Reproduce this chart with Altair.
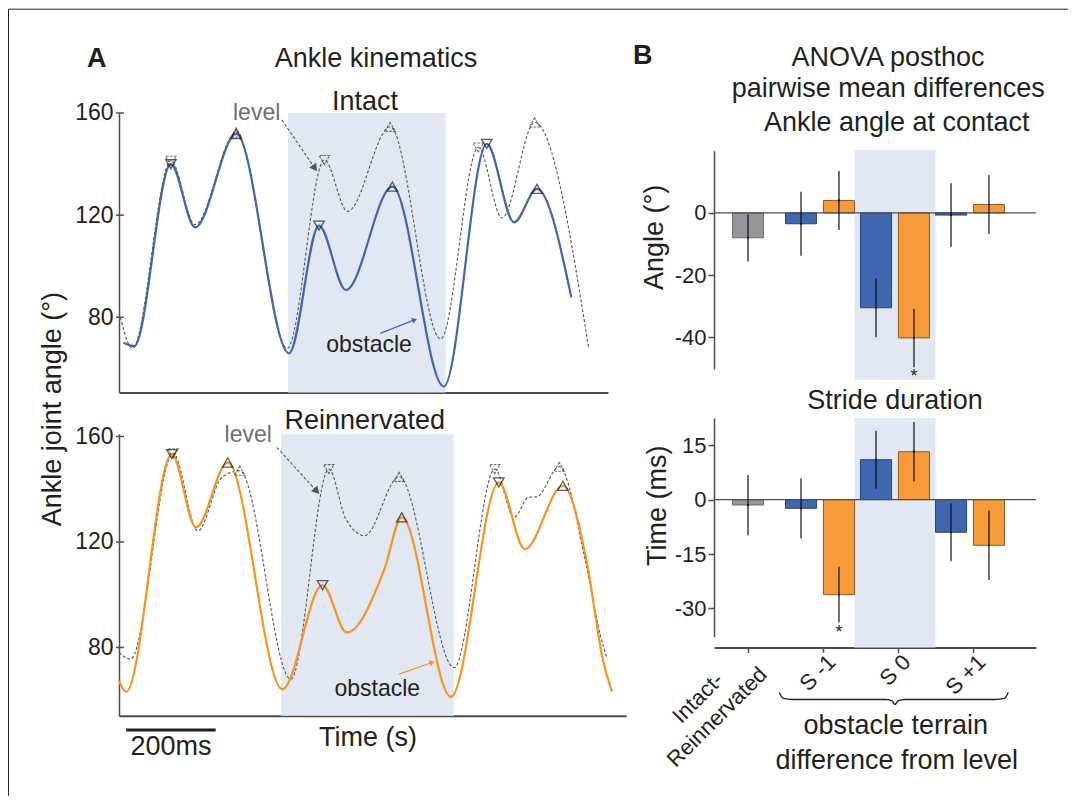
import altair as alt
import pandas as pd

# ---------------- Panel A: ankle joint angle traces (time in ms, angle in deg) ----------------
intact_obstacle_t = [10, 34, 116, 170, 262, 380, 447, 507, 611, 726, 822, 883, 934, 1011]
intact_obstacle_a = [70.0, 68.7, 140.0, 115.2, 151.8, 65.9, 115.9, 90.7, 131.2, 52.9, 147.9, 117.2, 130.3, 87.8]
intact_level_t = [3, 30, 116, 170, 262, 376, 459, 511, 606, 719, 803, 856, 929, 1050]
intact_level_a = [80.0, 67.9, 141.3, 116.3, 152.4, 67.9, 141.6, 121.5, 154.6, 71.5, 146.5, 118.9, 156.3, 67.6]
reinn_obstacle_t = [0, 16, 118, 172, 243, 365, 455, 509, 592, 632, 742, 849, 907, 992, 1045, 1082, 1102]
reinn_obstacle_a = [67.4, 63.2, 153.3, 125.5, 150.1, 64.2, 103.6, 85.7, 109.1, 129.3, 61.3, 142.6, 117.3, 141.3, 112.9, 75.0, 63.3]
reinn_level_t = [0, 26, 121, 176, 230, 270, 384, 469, 507, 549, 626, 749, 840, 883, 915, 934, 984, 1042, 1075, 1091]
reinn_level_a = [78.1, 75.6, 153.6, 124.2, 144.5, 147.0, 68.0, 147.6, 128.7, 122.4, 144.7, 72.4, 147.6, 129.3, 136.9, 137.1, 148.5, 112.9, 85.2, 75.7]

event_shape = ["triangle-down", "triangle-up"] * 3
intact_obstacle_ev_t = [116, 262, 447, 611, 822, 934]
intact_obstacle_ev_a = [140.0, 151.8, 115.9, 131.2, 147.9, 130.3]
intact_level_ev_t = [116, 262, 459, 606, 803, 929]
intact_level_ev_a = [141.3, 152.4, 141.6, 154.6, 146.5, 156.3]
reinn_obstacle_ev_t = [118, 243, 455, 632, 849, 992]
reinn_obstacle_ev_a = [153.3, 150.1, 103.6, 129.3, 142.6, 141.3]
reinn_level_ev_t = [121, 270, 469, 626, 840, 984]
reinn_level_ev_a = [153.6, 147.0, 147.6, 144.7, 147.6, 148.5]

intact_obstacle_stride = [378, 730]
reinn_obstacle_stride = [362, 748]
scale_bar_ms = [16, 216]
angle_ticks = [80, 120, 160]

# annotation arrows (time, angle)
intact_level_arrow_t = [364, 436]
intact_level_arrow_a = [157.3, 138.8]
intact_obst_arrow_t = [584, 659]
intact_obst_arrow_a = [73.7, 78.9]
reinn_level_arrow_t = [353, 440]
reinn_level_arrow_a = [155.8, 139.6]
reinn_obst_arrow_t = [626, 698]
reinn_obst_arrow_a = [69.9, 74.2]

# ---------------- Panel B: ANOVA posthoc pairwise mean differences ----------------
comparisons = ["Intact-\nReinnervated", "S -1", "S 0", "S +1"]
bar_comparison = [0, 1, 1, 2, 2, 3, 3]
bar_group = ["Intact-Reinnervated", "Intact", "Reinnervated", "Intact", "Reinnervated", "Intact", "Reinnervated"]
contact_angle_mean = [-8.0, -3.5, 4.0, -30.5, -40.2, -0.7, 2.7]
contact_angle_err = [7.6, 10.3, 9.5, 9.5, 9.4, 10.2, 9.5]
contact_angle_sig = [False, False, False, False, True, False, False]
stride_mean = [-1.5, -2.4, -26.2, 11.0, 13.2, -9.0, -12.6]
stride_err = [8.3, 8.3, 7.7, 8.0, 8.2, 8.0, 9.6]
stride_sig = [False, False, True, False, False, False, False]
contact_ticks = [-40, -20, 0]
stride_ticks = [-30, -15, 0, 15]

# ---------------- styles / layout ----------------
FONT = "Liberation Sans"
INK = "#231f20"
AX = "#4d4d4d"
SHADE = "#e1e7f3"
BLUE = "#3e66b1"
ORANGE = "#f7941d"
LEVEL = "#555555"
FILLS = {"Intact-Reinnervated": ("#939598", "#6d6e71"),
         "Intact": ("#3e66b1", "#24457f"),
         "Reinnervated": ("#f69a3a", "#8f5a22")}
HYPHEN_LABELS = "'' + datum.value"

MS_PER_PX = 2.235
TOTAL_W, TOTAL_H = 917, 602.8          # master plot area (origin = top-left panel origin)
A_TOP = dict(x0=0, y0=0, w=489, h=279.4)
A_BOT = dict(x0=0, y0=320.8, w=507, h=282)
B_TOP = dict(x0=595, y0=37.7, w=322, h=218.3)
B_BOT = dict(x0=595, y0=305, w=322, h=218.7)
PX_PER_U = 75.0
U_MIN = -34 / PX_PER_U

ONE = pd.DataFrame({"k": [0]})


def txt(text, x, y, size=27, color=INK, align="center", baseline="alphabetic",
        angle=0, weight="normal"):
    kw = dict(text=text, fontSize=size, font=FONT, color=color, align=align,
              baseline=baseline, fontWeight=weight)
    if angle:
        kw["angle"] = angle
    return alt.Chart(ONE).mark_text(**kw).encode(x=alt.value(x), y=alt.value(y))


def kin_panel(P, ydom, obs_t, obs_a, lvl_t, lvl_a, obs_ev_t, obs_ev_a,
              lvl_ev_t, lvl_ev_a, stride, color, lvl_arrow, obs_arrow, arrow_angles,
              texts, extra=None):
    x0, y0, w, h = P["x0"], P["y0"], P["w"], P["h"]
    xs = alt.Scale(domain=[0, w * MS_PER_PX], range=[x0, x0 + w], nice=False, zero=False)
    ys = alt.Scale(domain=ydom, range=[y0 + h, y0], nice=False, zero=False)
    xaxis = alt.Axis(orient="bottom", offset=(y0 + h) - TOTAL_H, labels=False, ticks=False,
                     title=None, grid=False, domainColor=AX, domainWidth=2)
    yaxis = alt.Axis(orient="left", offset=-x0, values=angle_ticks, title=None, grid=False,
                     ticks=False, labelPadding=6, labelFontSize=23, labelFont=FONT,
                     labelColor=INK, domainColor=AX, domainWidth=1.5,
                     labelExpr=HYPHEN_LABELS)

    def X(f):
        return alt.X(f, type="quantitative", scale=xs, axis=xaxis)

    def Y(f):
        return alt.Y(f, type="quantitative", scale=ys, axis=yaxis)

    layers = []
    sdf = pd.DataFrame({"t0": [stride[0]], "t1": [stride[1]]})
    layers.append(alt.Chart(sdf).mark_rect(color=SHADE).encode(
        x=X("t0"), x2="t1", y=alt.value(y0), y2=alt.value(y0 + h)))

    tdf = pd.DataFrame({"v": angle_ticks})
    layers.append(alt.Chart(tdf).mark_rule(color=AX, strokeWidth=1.5).encode(
        y=Y("v"), x=alt.value(x0 - 3), x2=alt.value(x0 + 5)))

    ldf = pd.DataFrame({"t": lvl_t, "a": lvl_a})
    layers.append(alt.Chart(ldf).mark_line(color=LEVEL, strokeWidth=1.1, strokeDash=[3, 2],
                                           interpolate="monotone").encode(x=X("t"), y=Y("a")))
    odf = pd.DataFrame({"t": obs_t, "a": obs_a})
    layers.append(alt.Chart(odf).mark_line(color=color, strokeWidth=2.2,
                                           interpolate="monotone").encode(x=X("t"), y=Y("a")))

    lev = pd.DataFrame({"t": lvl_ev_t, "a": lvl_ev_a, "shape": event_shape})
    layers.append(alt.Chart(lev).mark_point(filled=False, size=110, stroke="#333333",
                                            strokeWidth=1.1, strokeDash=[2.5, 1.2]).encode(
        x=X("t"), y=Y("a"), shape=alt.Shape("shape:N", scale=None)))
    oev = pd.DataFrame({"t": obs_ev_t, "a": obs_ev_a, "shape": event_shape})
    layers.append(alt.Chart(oev).mark_point(filled=False, size=110, stroke="#1a1a1a",
                                            strokeWidth=1.3).encode(
        x=X("t"), y=Y("a"), shape=alt.Shape("shape:N", scale=None)))

    # arrows
    la = pd.DataFrame({"t": lvl_arrow[0], "a": lvl_arrow[1]})
    layers.append(alt.Chart(la).mark_line(color=LEVEL, strokeWidth=1.1, strokeDash=[3, 2]).encode(
        x=X("t"), y=Y("a")))
    layers.append(alt.Chart(la.tail(1)).mark_point(shape="triangle", filled=True, size=75,
                                                   color=LEVEL, opacity=1,
                                                   angle=arrow_angles[0]).encode(x=X("t"), y=Y("a")))
    oa = pd.DataFrame({"t": obs_arrow[0], "a": obs_arrow[1]})
    layers.append(alt.Chart(oa).mark_line(color=color, strokeWidth=1.2).encode(
        x=X("t"), y=Y("a")))
    layers.append(alt.Chart(oa.tail(1)).mark_point(shape="triangle", filled=True, size=35,
                                                   color=color, opacity=1,
                                                   angle=arrow_angles[1]).encode(x=X("t"), y=Y("a")))
    if extra is not None:
        layers.extend(extra(X, Y))
    layers.extend(texts)
    return alt.layer(*layers)


# ---- Panel A top (Intact)
a_top_texts = [
    alt.Chart(ONE).mark_rule(color="#222222", strokeWidth=1).encode(
        x=alt.value(-110.5), y=alt.value(-103.8), y2=alt.value(682.7)),
    alt.Chart(ONE).mark_rule(color="#222222", strokeWidth=1).encode(
        x=alt.value(-110.5), x2=alt.value(949), y=alt.value(-103.8)),
    txt("A", -32, -46.3, align="left", weight="bold"),
    txt("Ankle kinematics", 257, -46.3),
    txt("Intact", 246, -3.3),
    txt("level", 114, 7, size=23, color="#6d6e71", align="left"),
    txt("obstacle", 250, 239.4, size=23),
    txt("Ankle joint angle (°)", -58, 296.2, angle=270),
]
a_top = kin_panel(A_TOP, [50.6, 160],
                  intact_obstacle_t, intact_obstacle_a, intact_level_t, intact_level_a,
                  intact_obstacle_ev_t, intact_obstacle_ev_a, intact_level_ev_t, intact_level_ev_a,
                  intact_obstacle_stride, BLUE,
                  (intact_level_arrow_t, intact_level_arrow_a),
                  (intact_obst_arrow_t, intact_obst_arrow_a),
                  (146, 69), a_top_texts)


# ---- Panel A bottom (Reinnervated)
YB = A_BOT["y0"]


def scale_bar(X, Y):
    bdf = pd.DataFrame({"t0": [scale_bar_ms[0]], "t1": [scale_bar_ms[1]],
                        "tm": [(scale_bar_ms[0] + scale_bar_ms[1]) / 2],
                        "lab": ["%dms" % (scale_bar_ms[1] - scale_bar_ms[0])]})
    return [
        alt.Chart(bdf).mark_rule(color=INK, strokeWidth=2.8).encode(
            x=X("t0"), x2="t1", y=alt.value(YB + 296.2)),
        alt.Chart(bdf).mark_text(fontSize=27, font=FONT, color=INK, baseline="alphabetic").encode(
            x=X("tm"), y=alt.value(YB + 320.9), text="lab:N"),
    ]


a_bot_texts = [
    txt("Reinnervated", 245.7, YB - 4.8),
    txt("level", 105.6, YB + 8.6, size=23, color="#6d6e71", align="left"),
    txt("obstacle", 258.3, YB + 261.9, size=23),
    txt("Time (s)", 249, YB + 312.6),
]
a_bot = kin_panel(A_BOT, [54.1, 161],
                  reinn_obstacle_t, reinn_obstacle_a, reinn_level_t, reinn_level_a,
                  reinn_obstacle_ev_t, reinn_obstacle_ev_a, reinn_level_ev_t, reinn_level_ev_a,
                  reinn_obstacle_stride, ORANGE,
                  (reinn_level_arrow_t, reinn_level_arrow_a),
                  (reinn_obst_arrow_t, reinn_obst_arrow_a),
                  (138, 70), a_bot_texts, extra=scale_bar)


# ---------------- Panel B ----------------
def bar_u(i):
    c = bar_comparison[i]
    if c == 0:
        return 0.0
    center = c - 0.04
    return center - 0.253 if bar_group[i] == "Intact" else center + 0.253


def anova_panel(P, ydom, yvals, mean, err, sig, show_xaxis, texts):
    x0, y0, w, h = P["x0"], P["y0"], P["w"], P["h"]
    xs = alt.Scale(domain=[U_MIN, U_MIN + w / PX_PER_U], range=[x0, x0 + w],
                   nice=False, zero=False)
    ys = alt.Scale(domain=ydom, range=[y0 + h, y0], nice=False, zero=False)
    if show_xaxis:
        xaxis = alt.Axis(orient="bottom", offset=(y0 + h + 10.7) - TOTAL_H,
                         values=[0, 1, 2, 3], labels=False, tickSize=5, tickColor=AX,
                         tickWidth=1.5, domainColor=AX, domainWidth=2,
                         title=None, grid=False)
    else:
        xaxis = None
    yaxis = alt.Axis(orient="left", offset=-x0, values=yvals, title=None, grid=False,
                     tickSize=6, tickColor=AX, tickWidth=1.5, labelPadding=2,
                     labelFontSize=22, labelFont=FONT, labelColor=INK,
                     domainColor=AX, domainWidth=1.5, labelExpr=HYPHEN_LABELS)

    def X(f):
        return alt.X(f, type="quantitative", scale=xs, axis=xaxis)

    def Y(f):
        return alt.Y(f, type="quantitative", scale=ys, axis=yaxis)

    n = len(mean)
    us = [bar_u(i) for i in range(n)]
    df = pd.DataFrame({
        "u": us,
        "ul": [u - 0.207 for u in us],
        "ur": [u + 0.207 for u in us],
        "mean": mean,
        "lo": [m - e for m, e in zip(mean, err)],
        "hi": [m + e for m, e in zip(mean, err)],
        "zero": [0.0] * n,
        "fill": [FILLS[g][0] for g in bar_group],
        "stroke": [FILLS[g][1] for g in bar_group],
        "group": bar_group,
    })
    shade_c = 2 - 0.04
    sdf = pd.DataFrame({"s0": [shade_c - 0.54], "s1": [shade_c + 0.54]})
    top_pad = 0 if show_xaxis else -1
    layers = [
        alt.Chart(sdf).mark_rect(color=SHADE).encode(
            x=X("s0"), x2="s1", y=alt.value(y0 + top_pad), y2=alt.value(y0 + h + 10.7)),
        alt.Chart(df).mark_bar(strokeWidth=1).encode(
            x=X("ul"), x2="ur", y=Y("zero"), y2="mean",
            fill=alt.Fill("fill:N", scale=None), stroke=alt.Stroke("stroke:N", scale=None)),
        alt.Chart(pd.DataFrame({"z": [0.0]})).mark_rule(color=AX, strokeWidth=1.2).encode(
            y=Y("z"), x=alt.value(x0), x2=alt.value(x0 + w)),
        alt.Chart(df).mark_rule(color="#111111", strokeWidth=1.2).encode(
            x=X("u"), y=Y("lo"), y2="hi"),
        alt.Chart(df).mark_point(filled=True, size=5, color="#111111", opacity=1).encode(
            x=X("u"), y=Y("mean")),
    ]
    star_df = df[[bool(s) for s in sig]]
    layers.append(alt.Chart(star_df).mark_text(text="*", fontSize=18, font=FONT, color=INK,
                                               dy=15, baseline="alphabetic").encode(
        x=X("u"), y=Y("lo")))
    if show_xaxis:
        single = pd.DataFrame({"lu": [i + 9 / PX_PER_U for i in range(1, 4)],
                               "lab": comparisons[1:]})
        layers.append(alt.Chart(single).mark_text(angle=315, align="right", baseline="middle",
                                                  fontSize=22, font=FONT, color=INK).encode(
            x=X("lu"), y=alt.value(y0 + 240.7), text="lab:N"))
        multi = pd.DataFrame({"lu": [0 - 50 / PX_PER_U], "lab": [comparisons[0]]})
        layers.append(alt.Chart(multi).mark_text(angle=315, align="center", baseline="middle",
                                                 fontSize=22, font=FONT, color=INK,
                                                 lineBreak="\n", lineHeight=27).encode(
            x=X("lu"), y=alt.value(y0 + 280), text="lab:N"))
        # curly brace under the obstacle-terrain comparisons (axis units, value units)
        brace_u = [0.417, 0.47, 0.6, 1.84, 1.92, 1.96, 2.0, 2.08, 3.29, 3.42, 3.47]
        brace_v = [-53.2, -54.8, -55.1, -55.1, -55.5, -56.5, -55.5, -55.1, -55.1, -54.8, -53.2]
        bdf = pd.DataFrame({"u": brace_u, "v": brace_v})
        layers.append(alt.Chart(bdf).mark_line(color=INK, strokeWidth=1.4,
                                               interpolate="monotone").encode(
            x=X("u"), y=Y("v")))
    layers.extend(texts)
    return alt.layer(*layers)


BX, BY = B_TOP["x0"], B_TOP["y0"]
b_top_texts = [
    txt("B", BX - 81, BY - 86.7, align="left", weight="bold"),
    txt("ANOVA posthoc", BX + 174, BY - 85),
    txt("pairwise mean differences", BX + 174.3, BY - 54),
    txt("Ankle angle at contact", BX + 182.7, BY - 19.3),
    txt("Angle (°)", BX - 51, BY + 86.7, angle=270),
]
b_top = anova_panel(B_TOP, [-50.2, 20], contact_ticks, contact_angle_mean,
                    contact_angle_err, contact_angle_sig, False, b_top_texts)

BY2 = B_BOT["y0"]
b_bot_texts = [
    txt("Stride duration", BX + 181, BY2 - 9),
    txt("Time  (ms)", BX - 48, BY2 + 87.7, angle=270),
    txt("obstacle terrain", BX + 181.8, BY2 + 316),
    txt("difference from level", BX + 182.7, BY2 + 351),
]
b_bot = anova_panel(B_BOT, [-37.8, 22.5], stride_ticks, stride_mean, stride_err,
                    stride_sig, True, b_bot_texts)

chart = alt.layer(a_top, a_bot, b_top, b_bot).resolve_scale(
    x="independent", y="independent").resolve_axis(
    x="independent", y="independent").properties(
    width=TOTAL_W, height=TOTAL_H, padding=0, background="white").configure_view(stroke=None)

chart.save("out.html", embed_options={"renderer": "svg", "actions": False})
